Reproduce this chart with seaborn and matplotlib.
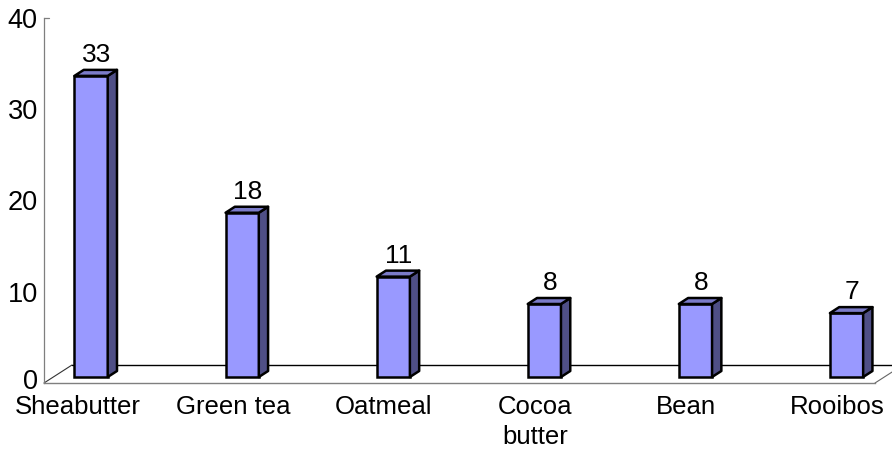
import matplotlib
matplotlib.use("Agg")
import matplotlib.pyplot as plt
from matplotlib.patches import Polygon
from matplotlib.transforms import ScaledTranslation
import numpy as np
import pandas as pd
import seaborn as sns

# Data
categories = ["Sheabutter", "Green tea", "Oatmeal", "Cocoa\nbutter", "Bean", "Rooibos"]
values = [33, 18, 11, 8, 8, 7]
slots = [0, 2, 4, 6, 8, 10]          # every other slot holds a bar
y_ticks = [0, 10, 20, 30, 40]

sns.set_theme(style="white")
plt.rcParams["font.family"] = ["Liberation Sans", "DejaVu Sans"]

W, H, DPI = 892, 450, 100
fig = plt.figure(figsize=(W / DPI, H / DPI), dpi=DPI)
fig.patch.set_facecolor("white")

# front plane of the plot box, in pixels
left_px, right_px, bottom_px, top_px = 44, 875, 383, 18
ax = fig.add_axes([left_px / W, 1 - bottom_px / H,
                   (right_px - left_px) / W, (bottom_px - top_px) / H])
ax.set_facecolor("white")

df = pd.DataFrame({"slot": slots, "value": values})
sns.barplot(data=df, x="slot", y="value", native_scale=True, width=0.22,
            color="#9999FF", saturation=1, edgecolor="black", linewidth=1.8,
            ax=ax, zorder=3)

ax.set_xlim(-0.5, 10.5)
ax.set_ylim(0, 40)
ax.set_xlabel("")
ax.set_ylabel("")

# pixel <-> data scale factors
sx = (right_px - left_px) / 11.0
sy = (bottom_px - top_px) / 40.0

# oblique depth of the floor and of each bar (pixels)
floor_dx, floor_dy = 28, 18
bar_off_x, bar_off_y = 9.3, 6.0      # bar front face sits one third into the floor
bar_dx, bar_dy = 9.3 / sx, 6.0 / sy   # bar depth in data units

offset = ax.transData + ScaledTranslation(bar_off_x / DPI, bar_off_y / DPI,
                                          fig.dpi_scale_trans)

for p in list(ax.patches):
    p.set_transform(offset)
    x0, w, h = p.get_x(), p.get_width(), p.get_height()
    top = Polygon([(x0, h), (x0 + w, h), (x0 + w + bar_dx, h + bar_dy), (x0 + bar_dx, h + bar_dy)],
                  closed=True, facecolor="#7b7bc9", edgecolor="black", linewidth=1.8,
                  joinstyle="round", transform=offset, zorder=3, clip_on=False)
    side = Polygon([(x0 + w, 0), (x0 + w + bar_dx, bar_dy), (x0 + w + bar_dx, h + bar_dy), (x0 + w, h)],
                   closed=True, facecolor="#4f4f86", edgecolor="black", linewidth=1.8,
                   joinstyle="round", transform=offset, zorder=3, clip_on=False)
    ax.add_patch(side)
    ax.add_patch(top)

# floor outline
fdx, fdy = floor_dx / sx, floor_dy / sy
ax.plot([-0.5, -0.5 + fdx], [0, fdy], color="#333333", lw=0.8, clip_on=False, zorder=1)
ax.plot([10.5, 10.5 + fdx], [0, fdy], color="#666666", lw=0.8, clip_on=False, zorder=1)
ax.plot([-0.5 + fdx, 10.5 + fdx], [fdy, fdy], color="black", lw=1.0, clip_on=False, zorder=1)

# value labels
for s, v in zip(slots, values):
    ax.annotate(str(v), xy=(s, v), xytext=(15, 20), textcoords="offset pixels",
                ha="center", va="baseline", fontsize=19, color="black", zorder=4)

# spines
for side_name in ["top", "right"]:
    ax.spines[side_name].set_visible(False)
ax.spines["left"].set_color("#7f7f7f")
ax.spines["left"].set_linewidth(0.9)
ax.spines["bottom"].set_color("#7f7f7f")
ax.spines["bottom"].set_linewidth(1.0)

# y axis
ax.set_yticks(y_ticks)
ax.set_yticklabels([str(t) for t in y_ticks])
ax.tick_params(axis="y", length=0, pad=4.5, labelsize=19.5, labelcolor="black")
ax.plot([-0.5, -0.5 + 5 / sx], [40, 40], color="#7f7f7f", lw=0.9, clip_on=False)
zero = ax.get_yticklabels()[0]
zero.set_transform(zero.get_transform() + ScaledTranslation(0, 4 / DPI, fig.dpi_scale_trans))

# x axis: boundary ticks between slots, labels at the bar slots
ax.set_xticks(np.arange(0.5, 11, 1.0))
ax.set_xticklabels([""] * 11)
ax.tick_params(axis="x", which="major", direction="in", length=4, width=0.9,
               color="#7f7f7f")
ax.set_xticks(slots, minor=True)
ax.set_xticklabels(categories, minor=True)
ax.tick_params(axis="x", which="minor", length=0, pad=9, labelsize=18.5,
               labelcolor="black")
for lab in ax.get_xticklabels(minor=True):
    lab.set_linespacing(1.3)
# the first label sits a little left of its slot
first = ax.get_xticklabels(minor=True)[0]
first.set_transform(first.get_transform() + ScaledTranslation(-4 / DPI, 0, fig.dpi_scale_trans))

ax.grid(False)
fig.savefig("out.png", dpi=DPI, facecolor="white")
